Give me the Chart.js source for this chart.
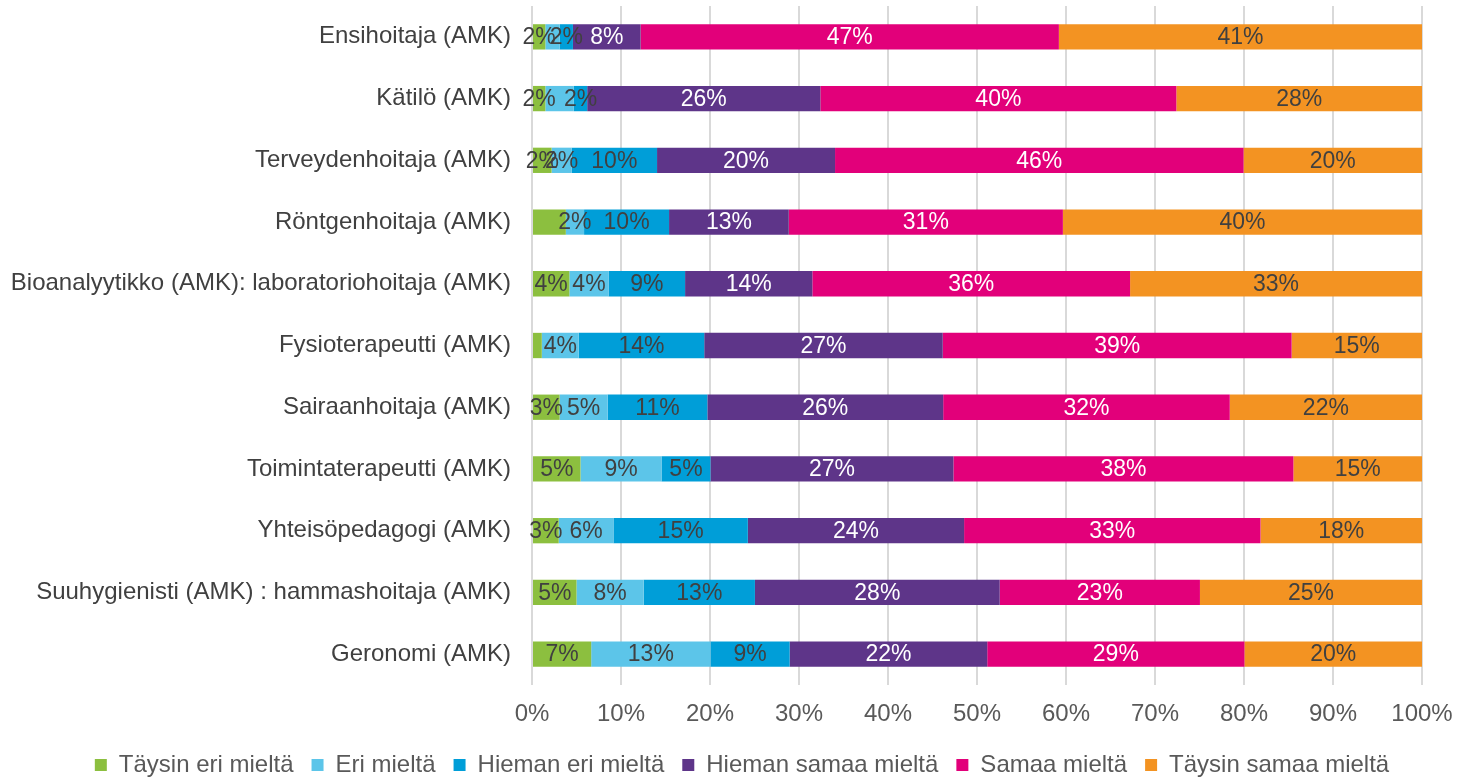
<!DOCTYPE html>
<html>
<head>
<meta charset="utf-8">
<script src="https://cdn.jsdelivr.net/npm/chart.js@4/dist/chart.umd.min.js"></script>
<style>
  html, body { margin: 0; padding: 0; background: #fff; overflow: hidden; }
  #wrap { width: 1458px; height: 778px; }
</style>
</head>
<body>
<div id="wrap"><canvas id="chart" width="1458" height="778"></canvas></div>
<script>
// --- DATA (share of answers, % per row) ---
const categories = [
    "Ensihoitaja (AMK)",
    "Kätilö (AMK)",
    "Terveydenhoitaja (AMK)",
    "Röntgenhoitaja (AMK)",
    "Bioanalyytikko (AMK): laboratoriohoitaja (AMK)",
    "Fysioterapeutti (AMK)",
    "Sairaanhoitaja (AMK)",
    "Toimintaterapeutti (AMK)",
    "Yhteisöpedagogi (AMK)",
    "Suuhygienisti (AMK) : hammashoitaja (AMK)",
    "Geronomi (AMK)"
];
const seriesNames = ["Täysin eri mieltä", "Eri mieltä", "Hieman eri mieltä", "Hieman samaa mieltä", "Samaa mieltä", "Täysin samaa mieltä"];

const taysinEri   = [1.5, 1.5, 2.2, 3.8, 4.2, 1.1, 3.1, 5.45, 3.0, 5.0, 6.65];
const eri         = [1.6, 3.2, 2.25, 2.05, 4.4, 4.15, 5.4, 9.1, 6.15, 7.55, 13.4];
const hiemanEri   = [1.5, 1.5, 9.6, 9.55, 8.6, 14.1, 11.2, 5.5, 15.1, 12.5, 8.9];
const hiemanSamaa = [7.6, 26.2, 20.0, 13.45, 14.3, 26.8, 26.5, 27.3, 24.3, 27.5, 22.2];
const samaa       = [47.0, 40.0, 45.9, 30.8, 35.7, 39.2, 32.2, 38.2, 33.3, 22.5, 28.9];
const taysinSamaa = [40.8, 27.6, 20.05, 40.35, 32.8, 14.65, 21.6, 14.45, 18.15, 24.95, 19.95];

// label texts as printed on the bars ("" = no label shown)
const lblTaysinEri   = ["2%", "2%", "2%", "", "4%", "", "3%", "5%", "3%", "5%", "7%"];
const lblEri         = ["", "", "2%", "2%", "4%", "4%", "5%", "9%", "6%", "8%", "13%"];
const lblHiemanEri   = ["2%", "2%", "10%", "10%", "9%", "14%", "11%", "5%", "15%", "13%", "9%"];
const lblHiemanSamaa = ["8%", "26%", "20%", "13%", "14%", "27%", "26%", "27%", "24%", "28%", "22%"];
const lblSamaa       = ["47%", "40%", "46%", "31%", "36%", "39%", "32%", "38%", "33%", "23%", "29%"];
const lblTaysinSamaa = ["41%", "28%", "20%", "40%", "33%", "15%", "22%", "15%", "18%", "25%", "20%"];

const xTicks = [0, 10, 20, 30, 40, 50, 60, 70, 80, 90, 100];

const FONT = "'Liberation Sans', Arial, sans-serif";
const colors = ["#8cbf3f", "#5cc5e9", "#009ed8", "#5e3589", "#e2007a", "#f39322"];
const labelColors = ["#404040", "#404040", "#404040", "#ffffff", "#ffffff", "#404040"];

const values = [taysinEri, eri, hiemanEri, hiemanSamaa, samaa, taysinSamaa];
const labels = [lblTaysinEri, lblEri, lblHiemanEri, lblHiemanSamaa, lblSamaa, lblTaysinSamaa];

const datasets = seriesNames.map((name, i) => ({
    label: name,
    data: values[i],
    valueLabels: labels[i],
    backgroundColor: colors[i],
    borderWidth: 0,
    barPercentage: 0.41,
    categoryPercentage: 1.0
}));

// draw the value texts in the middle of every segment
const barLabels = {
    id: "barLabels",
    afterDatasetsDraw(chart) {
        const ctx = chart.ctx;
        ctx.save();
        ctx.font = "23px " + FONT;
        ctx.textAlign = "center";
        ctx.textBaseline = "middle";
        chart.data.datasets.forEach((ds, di) => {
            const meta = chart.getDatasetMeta(di);
            ctx.fillStyle = labelColors[di];
            meta.data.forEach((bar, idx) => {
                const txt = ds.valueLabels[idx];
                if (!txt) return;
                ctx.fillText(txt, (bar.x + bar.base) / 2, bar.y + 1);
            });
        });
        ctx.restore();
    }
};

// legend sits a bit lower and to the right in the original;
// x axis box is stretched so its labels are not clipped
const layoutTweak = {
    id: "layoutTweak",
    afterLayout(chart) {
        chart.legend.top += 9;
        chart.legend.bottom += 9;
        chart.legend.left += 31;
        chart.legend.right += 31;
        chart.scales.x.bottom += 12;
    }
};

new Chart(document.getElementById("chart"), {
    type: "bar",
    data: { labels: categories, datasets: datasets },
    plugins: [barLabels, layoutTweak],
    options: {
        indexAxis: "y",
        responsive: false,
        animation: false,
        layout: { padding: { top: 6, right: 36, left: 0, bottom: 0 } },
        scales: {
            x: {
                stacked: true,
                min: 0,
                max: 100,
                afterBuildTicks: (axis) => { axis.ticks = xTicks.map(v => ({ value: v })); },
                afterFit: (axis) => {
                    axis.height = 41;
                    axis.paddingLeft = 0;
                    axis.paddingRight = 0;
                },
                grid: { color: "#d9d9d9", lineWidth: 2, drawTicks: false },
                border: { display: false },
                ticks: {
                    padding: 15,
                    color: "#595959",
                    font: { family: FONT, size: 24 },
                    callback: (v) => v + "%"
                }
            },
            y: {
                stacked: true,
                afterFit: (axis) => {
                    axis.width = 532;
                    axis.paddingTop = 0;
                    axis.paddingBottom = 0;
                },
                grid: { display: false, drawTicks: false },
                border: { display: false },
                ticks: {
                    padding: 21,
                    color: "#404040",
                    font: { family: FONT, size: 24 }
                }
            }
        },
        plugins: {
            legend: {
                position: "bottom",
                labels: {
                    boxWidth: 12,
                    boxHeight: 12,
                    padding: 18,
                    color: "#595959",
                    font: { family: FONT, size: 24 }
                }
            },
            tooltip: { enabled: false }
        }
    }
});
</script>
</body>
</html>
